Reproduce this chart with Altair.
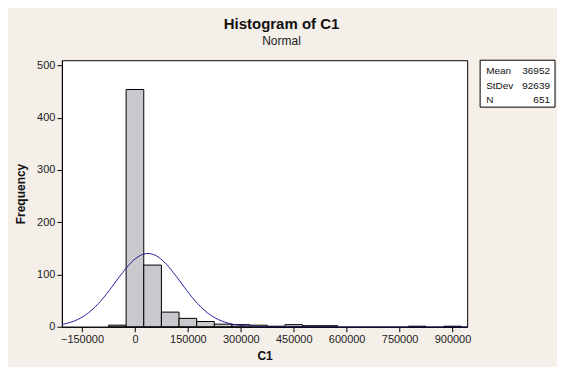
import altair as alt
import pandas as pd

# Histogram data (bin centres, width 50000)
bin_centers = [-50000, 0, 50000, 100000, 150000, 200000, 250000, 300000,
               350000, 400000, 450000, 500000, 550000, 800000, 900000]
counts = [3, 454, 118, 28, 16, 10, 5, 4, 3, 1, 4, 2, 2, 1, 1]
bin_width = 50000

# Fitted normal parameters (from the legend box)
stat_labels = ["Mean", "StDev", "N"]
stat_values = ["36952", "92639", "651"]
mean_v, sd_v, n_v = 36952, 92639, 651

x_ticks = [-150000, 0, 150000, 300000, 450000, 600000, 750000, 900000]
y_ticks = [0, 100, 200, 300, 400, 500]
x_domain = [-207000, 941500]
y_domain = [0, 510]

FONT = "Liberation Sans"
BG = "#F5EFE9"

W, H = 406, 267

bars_df = pd.DataFrame({"center": bin_centers, "count": counts})

xscale = alt.Scale(domain=x_domain, nice=False, zero=False)
yscale = alt.Scale(domain=y_domain, nice=False)

xaxis = alt.Axis(values=x_ticks, format="d", title="C1", grid=False,
                 labelFont=FONT, labelFontSize=11, labelColor="#222",
                 titleFont=FONT, titleFontSize=12, titleFontWeight="bold",
                 titleColor="#111", tickColor="#000", domainColor="#000",
                 tickSize=5, labelPadding=2, titlePadding=6)
yaxis = alt.Axis(values=y_ticks, format="d", title="Frequency", grid=False,
                 labelFont=FONT, labelFontSize=11, labelColor="#222",
                 titleFont=FONT, titleFontSize=12, titleFontWeight="bold",
                 titleColor="#111", tickColor="#000", domainColor="#000",
                 tickSize=5, labelPadding=2, titlePadding=9)

bars = alt.Chart(bars_df).transform_calculate(
    x0=f"datum.center - {bin_width / 2}",
    x1=f"datum.center + {bin_width / 2}",
).mark_bar(fill="#C9C9CD", stroke="#000", strokeWidth=1, opacity=1).encode(
    x=alt.X("x0:Q", scale=xscale, axis=xaxis),
    x2="x1:Q",
    y=alt.Y("count:Q", scale=yscale, axis=yaxis),
    y2=alt.datum(0),
)

curve = alt.Chart(alt.sequence(x_domain[0], x_domain[1], 4000, as_="xv")).transform_calculate(
    dens=f"{n_v} * {bin_width} / ({sd_v} * sqrt(2 * PI)) * exp(-0.5 * pow((datum.xv - {mean_v}) / {sd_v}, 2))"
).mark_line(color="#1A1A9A", strokeWidth=1, clip=True).encode(
    x=alt.X("xv:Q", scale=xscale),
    y=alt.Y("dens:Q", scale=yscale),
)

# stats box
box = alt.Chart(pd.DataFrame({"a": [0]})).mark_rect(
    fill="white", stroke="#000", strokeWidth=1
).encode(x=alt.value(419), x2=alt.value(494), y=alt.value(0), y2=alt.value(47))

stats_df = pd.DataFrame({"label": stat_labels, "value": stat_values})
stats_df["ypix"] = [11, 25.5, 40]
lab = alt.Chart(stats_df).mark_text(
    align="left", baseline="middle", font=FONT, fontSize=10, color="#111"
).encode(x=alt.value(425), y=alt.Y("ypix:Q", scale=None), text="label:N")
val = alt.Chart(stats_df).mark_text(
    align="right", baseline="middle", font=FONT, fontSize=10, color="#111"
).encode(x=alt.value(489), y=alt.Y("ypix:Q", scale=None), text="value:N")

chart = alt.layer(bars, curve, box, lab, val).properties(
    width=W, height=H,
    background=BG,
    padding={"left": 54, "top": 52, "right": 90, "bottom": 40},
    autosize=alt.AutoSizeParams(type="none"),
    title=alt.TitleParams(
        "Histogram of C1", subtitle="Normal", anchor="middle", dx=17,
        font=FONT, fontSize=15, fontWeight="bold", color="#111",
        subtitleFont=FONT, subtitleFontSize=12, subtitleColor="#222",
        offset=12, subtitlePadding=5,
    ),
).configure_view(stroke="#000", strokeWidth=1, fill="white")

chart.save("out.html", embed_options={"renderer": "svg", "actions": False})
